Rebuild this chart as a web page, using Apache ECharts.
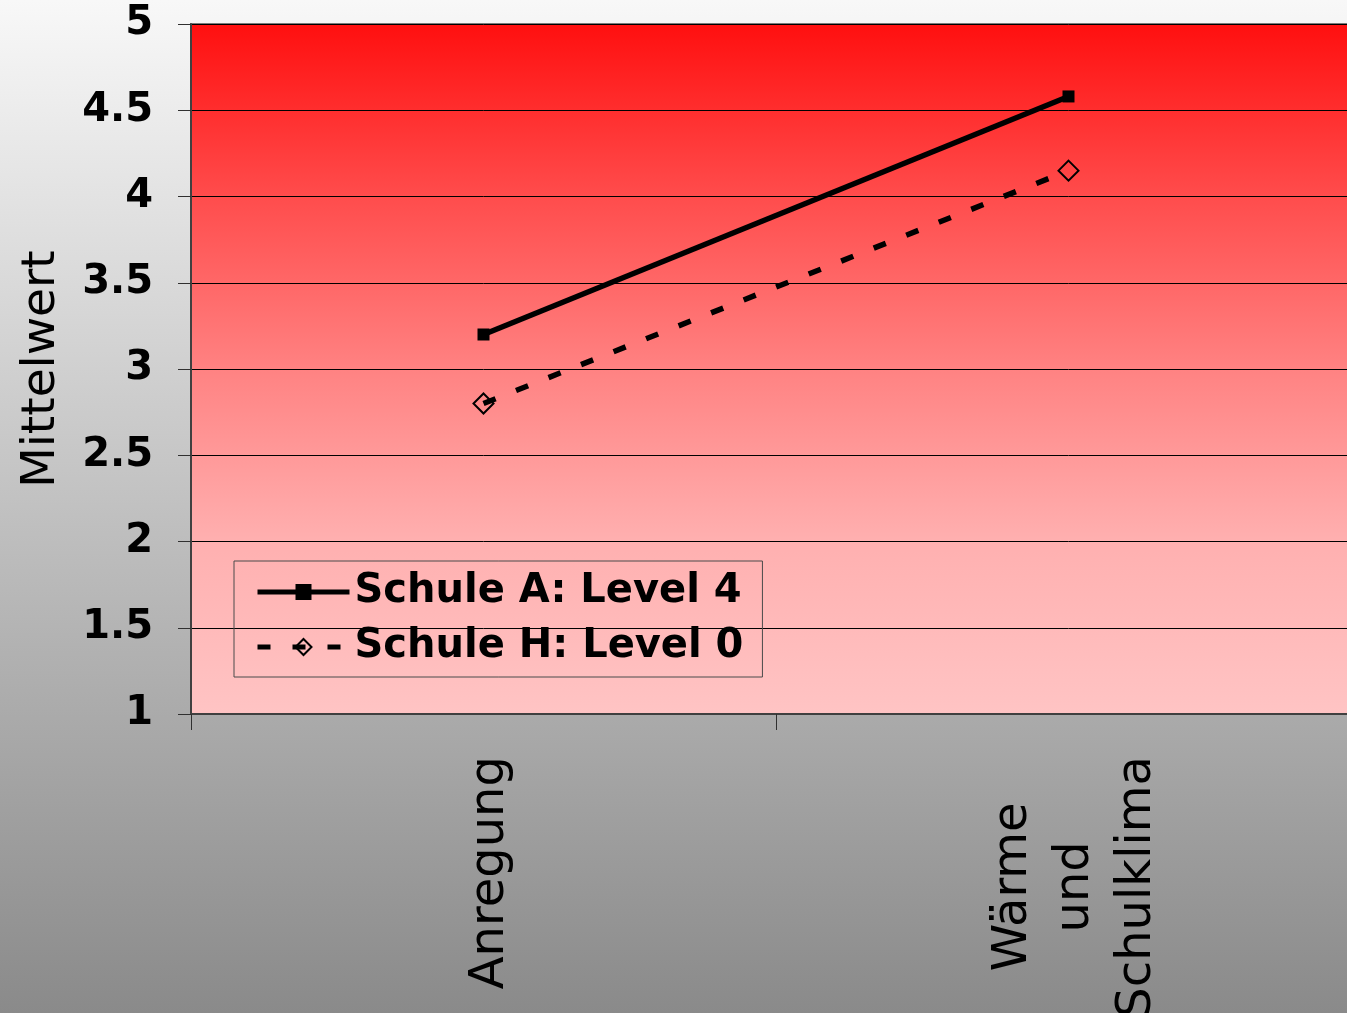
<!DOCTYPE html>
<html>
<head>
<meta charset="utf-8">
<script src="https://cdn.jsdelivr.net/npm/echarts@6/dist/echarts.min.js"></script>
<style>
  html, body { margin: 0; padding: 0; width: 1347px; height: 1013px; overflow: hidden; }
  /* the canvas is a bit wider than the page so the plot area runs off the right edge */
  #chart { width: 1361px; height: 1013px; }
</style>
</head>
<body>
<div id="chart"></div>
<script>
// Categories on the x axis and the mean values for each school
const categories = ['Anregung', 'Wärme und Schulklima'];
const schuleA = [3.2, 4.58];
const schuleH = [2.8, 4.15];
const seriesNames = ['Schule A: Level 4', 'Schule H: Level 0'];
const yAxisName = 'Mittelwert';

const FONT = 'DejaVu Sans';
const chart = echarts.init(document.getElementById('chart'));

chart.setOption({
  animation: false,
  backgroundColor: new echarts.graphic.LinearGradient(0, 0, 0, 1, [
    { offset: 0, color: '#f8f8f8' },
    { offset: 1, color: '#8a8a8a' }
  ]),
  grid: {
    left: 191, top: 24, right: 0, bottom: 299,
    outerBoundsMode: 'none',
    show: true,
    borderWidth: 2,
    borderColor: '#7a7a7a',
    backgroundColor: new echarts.graphic.LinearGradient(0, 0, 0, 1, [
      { offset: 0, color: '#ff0f0f' },
      { offset: 0.25, color: '#ff4c4c' },
      { offset: 0.5, color: '#ff8282' },
      { offset: 0.75, color: '#ffb0b0' },
      { offset: 1, color: '#ffc4c4' }
    ])
  },
  legend: {
    orient: 'vertical',
    left: 234, top: 561,
    padding: [11, 19, 10, 21],
    borderColor: '#4a4a4a',
    borderWidth: 1,
    itemWidth: 92,
    itemHeight: 20,
    itemGap: 15,
    lineStyle: { width: 5 },
    textStyle: { fontFamily: FONT, fontWeight: 'bold', fontSize: 40, color: '#000' },
    data: seriesNames
  },
  xAxis: {
    type: 'category',
    data: categories,
    boundaryGap: true,
    axisLine: { lineStyle: { color: '#404040', width: 2 } },
    axisTick: { show: true, length: 16, lineStyle: { color: '#303030', width: 1 } },
    splitLine: { show: false },
    axisLabel: {
      interval: 0,
      rotate: 90,
      margin: 42,
      padding: [14, 0, 0, 0],
      color: '#000',
      fontFamily: FONT,
      fontSize: 48,
      lineHeight: 62,
      formatter: v => v.split(' ').map(s => '{c|' + s + '}').join('\n'),
      rich: {
        c: { align: 'center', fontFamily: FONT, fontSize: 48, lineHeight: 62, color: '#000' }
      }
    }
  },
  yAxis: {
    type: 'value',
    min: 1, max: 5, interval: 0.5,
    name: yAxisName,
    nameLocation: 'middle',
    nameGap: 126,
    nameRotate: 90,
    nameTextStyle: { fontFamily: FONT, fontSize: 47, color: '#000' },
    axisLine: { show: true, lineStyle: { color: '#404040', width: 2 } },
    axisTick: { show: true, length: 13, lineStyle: { color: '#303030', width: 1 } },
    splitLine: { show: true, lineStyle: { color: '#000', width: 1 } },
    axisLabel: {
      margin: 38,
      color: '#000',
      fontFamily: FONT,
      fontWeight: 'bold',
      fontSize: 40
    }
  },
  series: [
    {
      name: seriesNames[0],
      type: 'line',
      data: schuleA,
      symbol: 'rect',
      symbolSize: 12,
      lineStyle: { color: '#000', width: 5.5 },
      itemStyle: { color: '#000' },
      z: 3
    },
    {
      name: seriesNames[1],
      type: 'line',
      data: schuleH,
      symbol: 'diamond',
      symbolSize: 20,
      lineStyle: { color: '#000', width: 5.5, type: [13, 22] },
      itemStyle: { color: 'rgba(0,0,0,0)', borderColor: '#000', borderWidth: 2 },
      z: 3
    }
  ]
});
</script>
</body>
</html>
